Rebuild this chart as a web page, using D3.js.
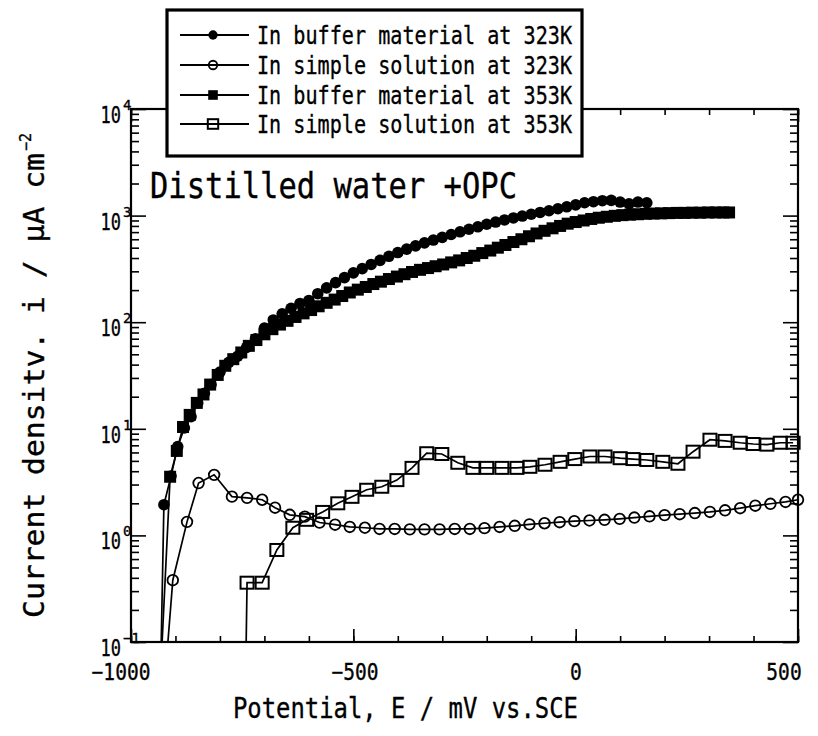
<!DOCTYPE html>
<html><head><meta charset="utf-8">
<script src="https://cdn.jsdelivr.net/npm/d3@7"></script>
<style>body{margin:0;background:#fff}svg{display:block}</style>
</head><body>
<svg id="c" width="818" height="736"></svg>
<script>
// ---------- data ----------
const xTickLabels = [-1000, -500, 0, 500];
const yTickExps = [-1, 0, 1, 2, 3, 4];

// In buffer material at 323K (filled circles)
const buf323E = [-926,-910,-895,-880,-865,-850,-835,-820,-800,-780,-760,-740,-720,-700,-680,-660,-640,-620,-600,-580,-560,-540,-520,-500,-480,-460,-440,-420,-400,-380,-360,-340,-320,-300,-280,-260,-240,-220,-200,-180,-160,-140,-120,-100,-80,-60,-40,-20,0,20,40,60,80,100,120,140,160];
const buf323I = [1.94,3.6,6.8,10.2,13,17.5,21.5,26,34,42,48,58,70,88,105,120,135,150,160,185,210,235,262,290,318,348,380,415,450,485,520,555,590,625,665,705,745,785,830,870,910,950,990,1030,1070,1110,1160,1210,1260,1320,1350,1380,1390,1340,1290,1340,1320];

// In simple solution at 323K (open circles)
const sim323E = [-906,-874,-848,-813,-773,-739,-705,-676,-643,-609,-576,-541,-508,-474,-441,-407,-373,-340,-306,-272,-238,-205,-171,-137,-104,-70,-36,-3,31,65,99,132,166,200,234,268,302,336,370,404,438,472,500];
const sim323I = [0.38,1.34,3.1,3.7,2.31,2.25,2.16,1.82,1.56,1.50,1.32,1.26,1.2,1.18,1.15,1.15,1.14,1.14,1.14,1.15,1.15,1.17,1.2,1.23,1.27,1.30,1.33,1.36,1.38,1.40,1.43,1.47,1.51,1.55,1.58,1.62,1.66,1.72,1.80,1.90,1.98,2.06,2.16];

// In buffer material at 353K (filled squares)
const buf353E = [-912,-897,-883,-868,-852,-837,-822,-805,-788,-770,-752,-735,-718,-700,-682,-665,-648,-630,-612,-595,-578,-560,-542,-525,-508,-490,-472,-455,-438,-420,-402,-385,-368,-350,-332,-315,-298,-280,-262,-245,-228,-210,-192,-175,-158,-140,-122,-105,-88,-70,-52,-35,-18,0,18,35,52,70,88,105,122,140,158,175,192,210,228,245,262,280,298,315,332,345];
const buf353I = [3.55,6.2,10.4,13.5,17.5,21,26,32,39,45,52,60,68,77,86,95,103,112,121,130,141,152,163,176,190,202,214,228,240,254,268,282,296,310,322,335,348,364,380,400,420,445,470,500,530,565,600,640,680,720,760,800,840,870,900,930,955,975,995,1010,1020,1030,1040,1045,1050,1055,1060,1060,1065,1065,1070,1070,1070,1070];

// In simple solution at 353K (open squares)
const sim353E = [-739,-705,-672,-636,-605,-569,-535,-503,-470,-436,-402,-368,-335,-301,-265,-231,-200,-166,-132,-103,-69,-35,-2,32,66,100,129,160,196,230,264,302,336,370,399,430,460,489];
const sim353I = [0.36,0.36,0.73,1.18,1.4,1.66,2.0,2.3,2.68,2.86,3.3,4.3,5.9,5.8,4.8,4.3,4.3,4.3,4.3,4.4,4.6,4.9,5.2,5.5,5.5,5.3,5.2,5.1,4.9,4.7,6.1,7.9,7.7,7.4,7.2,7.1,7.4,7.4];

// corrosion potentials where each curve drops to the bottom axis
const dropE = [-932, -917, -930, -741];
const seriesNames = ["In buffer material at 323K","In simple solution at 323K","In buffer material at 353K","In simple solution at 353K"];
const seriesMarks = ["fcircle","ocircle","fsquare","osquare"];

// ---------- drawing ----------
const FONT = "'DejaVu Sans Mono', 'Liberation Mono', monospace";
const svg = d3.select("#c");
const L = 131, R = 798, T = 109, B = 642;
const x = d3.scaleLinear().domain([-1000, 500]).range([L, R]);
const y = d3.scaleLog().domain([0.1, 10000]).range([B, T]);

const minorX = d3.range(-1000, 501, 100);
const majorY = yTickExps.map(e => Math.pow(10, e));
const minorY = [];
yTickExps.slice(0, -1).forEach(e => { for (let k = 2; k <= 9; k++) minorY.push(k * Math.pow(10, e)); });

function axis(gen, scale, vals, size, tr) {
  const g = svg.append("g").attr("transform", tr)
    .call(gen(scale).tickValues(vals).tickSize(size).tickFormat(""));
  g.select(".domain").remove();
  g.selectAll("line").attr("stroke", "#000").attr("stroke-width", 1.6);
}
axis(d3.axisBottom, x, minorX, -6, `translate(0,${B})`);
axis(d3.axisBottom, x, xTickLabels, -13, `translate(0,${B})`);
axis(d3.axisTop, x, minorX, -6, `translate(0,${T})`);
axis(d3.axisTop, x, xTickLabels, -13, `translate(0,${T})`);
axis(d3.axisLeft, y, minorY, -8, `translate(${L},0)`);
axis(d3.axisLeft, y, majorY, -15, `translate(${L},0)`);
axis(d3.axisRight, y, minorY, -8, `translate(${R},0)`);
axis(d3.axisRight, y, majorY, -15, `translate(${R},0)`);

svg.append("rect").attr("x", L).attr("y", T).attr("width", R - L).attr("height", B - T)
  .attr("fill", "none").attr("stroke", "#000").attr("stroke-width", 2.2);

const txt = sel => sel.attr("font-family", FONT).attr("fill", "#000").attr("stroke", "#000").attr("stroke-width", 0.35);

// tick labels
const xLabPos = {"-1000": 121, "-500": 355, "0": 576, "500": 784};
svg.append("g").selectAll("g").data(xTickLabels).join("g")
  .attr("transform", d => `translate(${xLabPos[d]},680) scale(0.85,1)`)
  .append("text").attr("text-anchor", "middle").attr("font-size", 23)
  .call(txt)
  .text(d => d < 0 ? "\u2212" + Math.abs(d) : String(d));

const yl = svg.append("g").selectAll("g").data(yTickExps).join("g");
yl.append("g").attr("transform", d => `translate(121,${y(Math.pow(10, d)) + 14}) scale(0.74,1)`)
  .append("text").attr("text-anchor", "end").attr("font-size", 23)
  .call(txt).text("10");
yl.append("text").attr("x", 123).attr("y", d => y(Math.pow(10, d)) + 1)
  .attr("font-size", 14).call(txt)
  .text(d => d < 0 ? "\u22121" : String(d));

// series
const series = [
  {E: buf323E, I: buf323I},
  {E: sim323E, I: sim323I},
  {E: buf353E, I: buf353I},
  {E: sim353E, I: sim353I}
];
const line = d3.line().x(d => x(d[0])).y(d => y(d[1]));

function marker(g, type, cx, cy, s) {
  if (type === "fcircle") g.append("circle").attr("cx", cx).attr("cy", cy).attr("r", 5.8 * s).attr("fill", "#000");
  if (type === "ocircle") g.append("circle").attr("cx", cx).attr("cy", cy).attr("r", 5.3 * s).attr("fill", "none").attr("stroke", "#000").attr("stroke-width", 1.8);
  if (type === "fsquare") g.append("rect").attr("x", cx - 6 * s).attr("y", cy - 6 * s).attr("width", 12 * s).attr("height", 12 * s).attr("fill", "#000");
  if (type === "osquare") g.append("rect").attr("x", cx - 6.5 * s).attr("y", cy - 6 * s).attr("width", 13 * s).attr("height", 12 * s).attr("fill", "none").attr("stroke", "#000").attr("stroke-width", 2);
}

series.forEach((s, i) => {
  const pts = s.E.map((e, k) => [e, s.I[k]]);
  const lp = [[dropE[i], 0.1]].concat(pts);
  svg.append("path").attr("d", line(lp)).attr("fill", "none").attr("stroke", "#000").attr("stroke-width", 1.7);
  const g = svg.append("g");
  pts.forEach(p => marker(g, seriesMarks[i], x(p[0]), y(p[1]), 1));
});

// annotation
svg.append("text").attr("x", 150).attr("y", 198).attr("font-size", 36)
  .attr("textLength", 367).attr("lengthAdjust", "spacingAndGlyphs").call(txt).text("Distilled water +OPC");

// legend
svg.append("rect").attr("x", 167).attr("y", 10).attr("width", 415).attr("height", 146)
  .attr("fill", "#fff").attr("stroke", "#000").attr("stroke-width", 3.2);
const rowY = [35, 65, 95, 124];
seriesNames.forEach((n, i) => {
  const g = svg.append("g");
  g.append("line").attr("x1", 180).attr("x2", 249).attr("y1", rowY[i]).attr("y2", rowY[i]).attr("stroke", "#000").attr("stroke-width", 1.8);
  marker(g, seriesMarks[i], 213, rowY[i], 0.8);
  g.append("text").attr("x", 257).attr("y", rowY[i] + 9).attr("font-size", 25)
    .attr("textLength", 315).attr("lengthAdjust", "spacingAndGlyphs").call(txt).text(n);
});

// axis titles
svg.append("text").attr("x", 233).attr("y", 718).attr("font-size", 29)
  .attr("textLength", 345).attr("lengthAdjust", "spacingAndGlyphs").call(txt).text("Potential, E / mV vs.SCE");

const yt = svg.append("g").attr("transform", "translate(44,618) rotate(-90)");
yt.append("text").attr("x", 0).attr("y", 0).attr("font-size", 29)
  .attr("textLength", 465).attr("lengthAdjust", "spacingAndGlyphs").call(txt).text("Current densitv. i / \u03bcA cm");
yt.append("text").attr("x", 467).attr("y", -13).attr("font-size", 15).call(txt)
  .text("\u22122");
</script>
</body></html>
